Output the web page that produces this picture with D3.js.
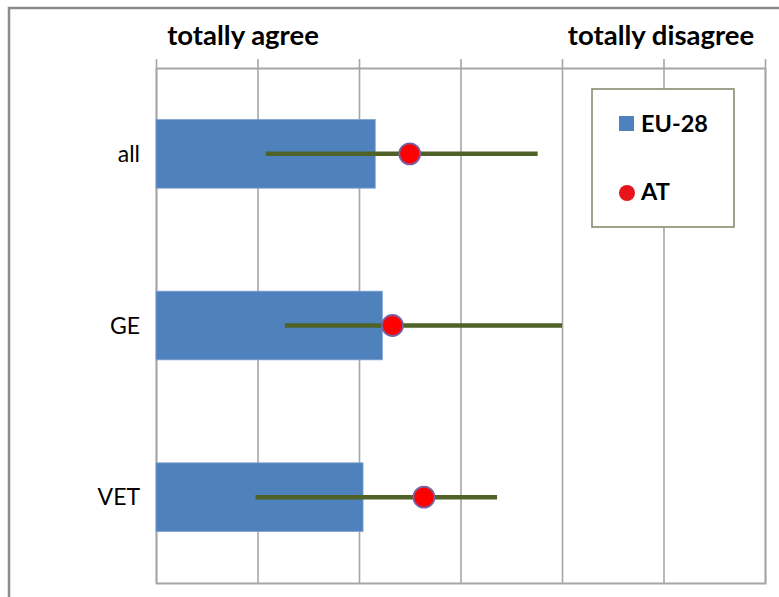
<!DOCTYPE html>
<html>
<head>
<meta charset="utf-8">
<script src="https://cdn.jsdelivr.net/npm/d3@7"></script>
<style>
  html, body { margin: 0; padding: 0; background: #fff; }
  svg { display: block; }
  text { font-family: Lato, "Open Sans", sans-serif; fill: #000; }
</style>
</head>
<body>
<svg id="chart" width="779" height="597"></svg>
<script>
// ---- data ----
const categories = ["all", "GE", "VET"];
const eu28 = [2.08, 2.115, 2.02];          // bar values (EU-28)
const at = [2.25, 2.165, 2.32];            // dot values (AT)
const rangeLow = [1.54, 1.635, 1.49];      // line start
const rangeHigh = [2.88, 3.0, 2.68];       // line end
const xDomain = [1, 4];
const xTicks = [1, 1.5, 2, 2.5, 3, 3.5, 4];
const scaleLabels = ["totally agree", "totally disagree"];
const legendLabels = ["EU-28", "AT"];

(function () {
// ---- layout ----
const svg = d3.select("#chart");
const W = 779, H = 597;
const m = { left: 156, right: 14, top: 68, bottom: 14 };
const pw = W - m.left - m.right, ph = H - m.top - m.bottom;

const x = d3.scaleLinear().domain(xDomain).range([m.left, m.left + pw]);
const y = d3.scaleBand().domain(categories).range([m.top, m.top + ph])
  .paddingInner(0.6).paddingOuter(0.3);

// outer frame (top + left)
svg.append("path")
  .attr("d", `M9,${H} L9,8 L${W},8`)
  .attr("fill", "none").attr("stroke", "#8c8c8c").attr("stroke-width", 2.5);

// gridlines
const grid = svg.append("g").attr("transform", `translate(0,${m.top + ph})`)
  .call(d3.axisBottom(x).tickValues(xTicks).tickSize(-ph).tickFormat(""));
grid.selectAll("line").attr("stroke", "#a6a6a6").attr("stroke-width", 1.6);
grid.select(".domain").attr("stroke", "#a6a6a6").attr("stroke-width", 1.8);

// top axis with outward ticks
const topAxis = svg.append("g").attr("transform", `translate(0,${m.top})`)
  .call(d3.axisTop(x).tickValues(xTicks).tickSize(9).tickSizeOuter(0).tickFormat(""));
topAxis.selectAll("line").attr("stroke", "#a6a6a6").attr("stroke-width", 1.6);
topAxis.select(".domain").attr("stroke", "#a6a6a6").attr("stroke-width", 1.8);

// scale end labels
svg.append("text").attr("x", 243).attr("y", 45).attr("text-anchor", "middle")
  .attr("font-weight", "bold").attr("font-size", 27.5).text(scaleLabels[0]);
svg.append("text").attr("x", 661).attr("y", 45).attr("text-anchor", "middle")
  .attr("font-weight", "bold").attr("font-size", 27.5).text(scaleLabels[1]);

// category labels
svg.append("g").selectAll("text").data(categories).join("text")
  .attr("x", m.left - 16)
  .attr("y", d => y(d) + y.bandwidth() / 2)
  .attr("dy", "0.35em")
  .attr("text-anchor", "end")
  .attr("font-size", 23)
  .text(d => d);

// bars
svg.append("g").selectAll("rect").data(categories).join("rect")
  .attr("x", x(xDomain[0]))
  .attr("y", d => y(d))
  .attr("width", (d, i) => x(eu28[i]) - x(xDomain[0]))
  .attr("height", y.bandwidth())
  .attr("fill", "#4f81bd")
  .attr("stroke", "#7fa3d1").attr("stroke-width", 0.8);

// range lines
svg.append("g").selectAll("line").data(categories).join("line")
  .attr("x1", (d, i) => x(rangeLow[i]))
  .attr("x2", (d, i) => x(rangeHigh[i]))
  .attr("y1", d => y(d) + y.bandwidth() / 2)
  .attr("y2", d => y(d) + y.bandwidth() / 2)
  .attr("stroke", "#4f6228").attr("stroke-width", 4.5);

// AT dots
svg.append("g").selectAll("circle").data(categories).join("circle")
  .attr("cx", (d, i) => x(at[i]))
  .attr("cy", d => y(d) + y.bandwidth() / 2)
  .attr("r", 10.5)
  .attr("fill", "#ff0000")
  .attr("stroke", "#7a5fa0").attr("stroke-width", 1.8);

// legend
const lg = svg.append("g");
lg.append("rect").attr("x", 592).attr("y", 89).attr("width", 142).attr("height", 138)
  .attr("fill", "#fff").attr("stroke", "#8a8a70").attr("stroke-width", 1.6);
lg.append("rect").attr("x", 619).attr("y", 116).attr("width", 15).attr("height", 15)
  .attr("fill", "#4f81bd");
lg.append("text").attr("x", 641).attr("y", 124).attr("dy", "0.35em")
  .attr("font-weight", "bold").attr("font-size", 23.5).text(legendLabels[0]);
lg.append("circle").attr("cx", 627).attr("cy", 193).attr("r", 8)
  .attr("fill", "#e8141c");
lg.append("text").attr("x", 641).attr("y", 192).attr("dy", "0.35em")
  .attr("font-weight", "bold").attr("font-size", 23.5).text(legendLabels[1]);
})();
</script>
</body>
</html>
